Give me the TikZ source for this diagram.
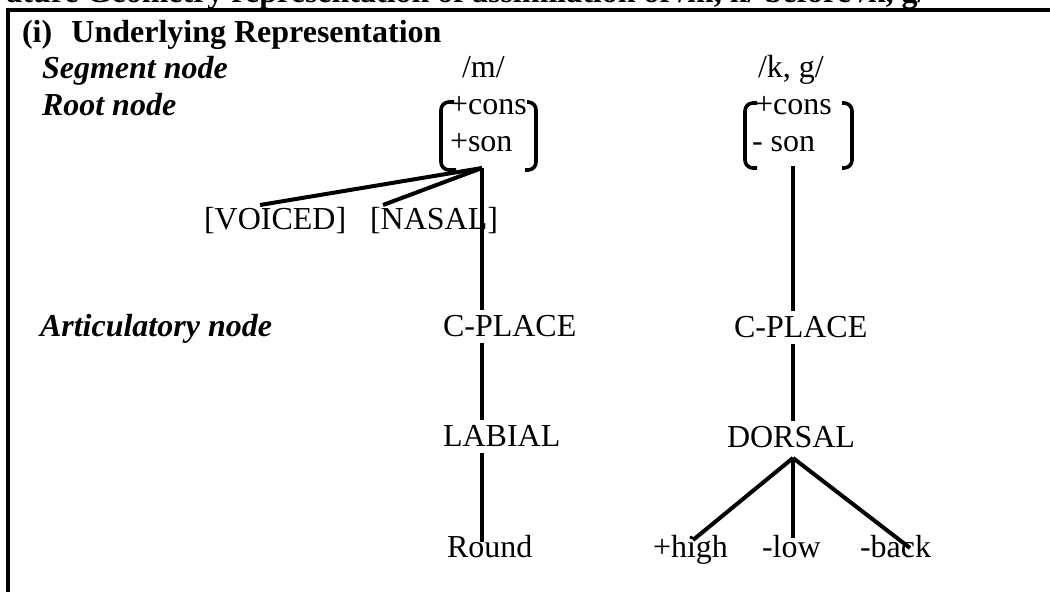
\documentclass[tikz,border=0pt]{standalone}
\usepackage{fontspec}
\setmainfont{Liberation Serif}
\begin{document}
\begin{tikzpicture}[x=0.5pt, y=-0.5pt, font=\fontsize{16}{19}\selectfont,
    lbl/.style={anchor=base west, inner sep=0pt, outer sep=3pt, xshift=-3pt},
    tag/.style={lbl, font=\fontsize{16}{19}\selectfont\bfseries\itshape},
    branch/.style={line width=2pt},
    brk/.style={line width=1.8pt, rounded corners=4pt}]
\useasboundingbox (0,0) rectangle (1050,592);

% heading and frame
\node[anchor=base east, inner sep=0pt, font=\fontsize{16}{19}\selectfont\bfseries] (title) at (927,3)
    {ature Geometry representation of assimilation of /m, n/ before /k, g/};
\draw[line width=2pt] (8,600) -- (8,10) -- (1060,10);
\node[lbl, font=\fontsize{16}{19}\selectfont\bfseries] (head) at (22,43) {(i)\hspace{0.6em}Underlying Representation};

% tier labels
\node[tag] (segtag) at (42,79) {Segment node};
\node[tag] (roottag) at (42,116) {Root node};
\node[tag] (arttag) at (40,337) {Articulatory node};

% /m/
\node[lbl] (segM) at (462,78) {/m/};
\node[lbl] (consM) at (450,115) {+cons};
\node[lbl] (sonM) at (450,152) {+son};
\draw[brk] (454,102) -- (441,102) -- (441,170) -- (456,170);
\draw[brk] (527,102) -- (536,102) -- (536,170) -- (525,170);
\coordinate (rootM) at (482,168);
\node[lbl] (voiced) at (204,230) {[VOICED]};
\node[lbl] (nasal) at (370,230) {[NASAL]};
\coordinate (voicedEnd) at (260,205);
\coordinate (nasalEnd) at (383,205);
\node[lbl] (cplM) at (443,337) {C-PLACE};
\node[lbl] (labM) at (443,447) {LABIAL};
\node[lbl] (rndM) at (447,558) {Round};

\draw[branch] (rootM) -- (voicedEnd);
\draw[branch] (rootM) -- (nasalEnd);
\draw[branch] (rootM) -- (cplM.north -| rootM);
\draw[branch] (cplM.south -| rootM) -- (labM.north -| rootM);
\draw[branch, shorten >=-6pt] (labM.south -| rootM) -- (rndM.north -| rootM);

% /k, g/
\node[lbl] (segK) at (758,78) {/k, g/};
\node[lbl] (consK) at (755,115) {+cons};
\node[lbl] (sonK) at (752,152) {- son};
\draw[brk] (757,103) -- (745,103) -- (745,168) -- (757,168);
\draw[brk] (842,103) -- (852,103) -- (852,168) -- (842,168);
\coordinate (rootK) at (793,166);
\node[lbl] (cplK) at (734,338) {C-PLACE};
\node[lbl] (dorK) at (727,448) {DORSAL};
\node[lbl] (high) at (653,558) {+high};
\node[lbl] (low) at (762,558) {-low};
\node[lbl] (back) at (860,558) {-back};
\coordinate (dorFoot) at (793,458);
\coordinate (highEnd) at (693,540);
\coordinate (lowEnd) at (793,538);
\coordinate (backEnd) at (910,548);

\draw[branch] (rootK) -- (cplK.north -| rootK);
\draw[branch] (cplK.south -| rootK) -- (dorK.north -| rootK);
\draw[branch] (dorFoot) -- (highEnd);
\draw[branch] (dorFoot) -- (lowEnd);
\draw[branch] (dorFoot) -- (backEnd);
\end{tikzpicture}
\end{document}
